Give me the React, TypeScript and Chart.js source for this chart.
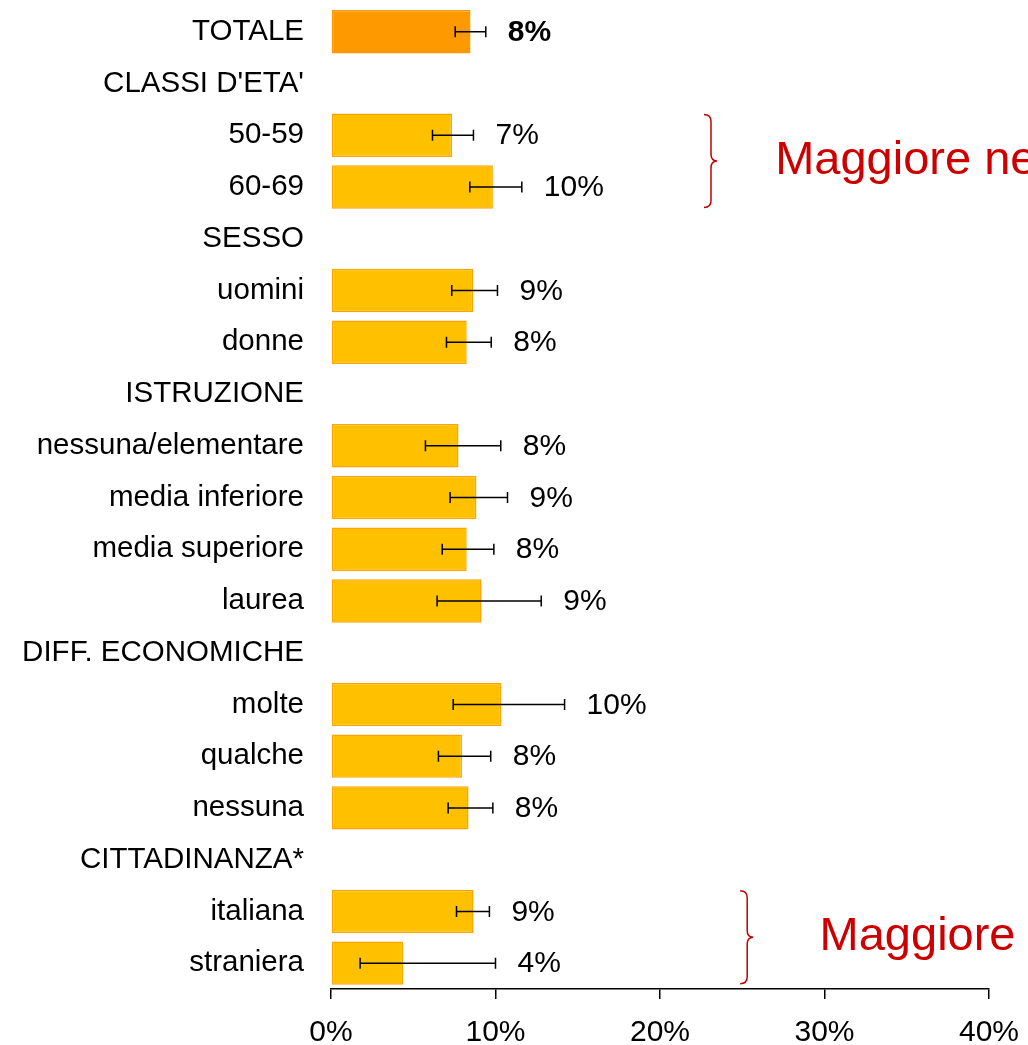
import React, { useEffect, useRef } from "react";
import { Chart, registerables } from "chart.js";

Chart.register(...registerables);

const categories = [
  "TOTALE", "CLASSI D'ETA'", "50-59", "60-69", "SESSO", "uomini", "donne",
  "ISTRUZIONE", "nessuna/elementare", "media inferiore", "media superiore", "laurea",
  "DIFF. ECONOMICHE", "molte", "qualche", "nessuna", "CITTADINANZA*", "italiana", "straniera",
];
const values = [8.48, null, 7.36, 9.84, null, 8.64, 8.25, null, 7.75, 8.84, 8.25, 9.15, null, 10.35, 7.97, 8.36, null, 8.66, 4.38];
const errLow = [7.55, null, 6.17, 8.44, null, 7.34, 7.02, null, 5.74, 7.24, 6.76, 6.45, null, 7.43, 6.53, 7.12, null, 7.63, 1.77];
const errHigh = [9.41, null, 8.66, 11.6, null, 10.12, 9.74, null, 10.32, 10.73, 9.9, 12.78, null, 14.2, 9.71, 9.84, null, 9.63, 10.0];
const valueLabels = ["8%", "", "7%", "10%", "", "9%", "8%", "", "8%", "9%", "8%", "9%", "", "10%", "8%", "8%", "", "9%", "4%"];
const xTicks = [0, 10, 20, 30, 40];
const notes = [
  { from: "50-59", to: "60-69", braceAt: 23.1, textAt: 27.0, text: "Maggiore ne" },
  { from: "italiana", to: "straniera", braceAt: 25.3, textAt: 29.7, text: "Maggiore" },
];

const FONT = "'Liberation Sans', Arial, sans-serif";

export default function App() {
  const ref = useRef<HTMLCanvasElement | null>(null);

  useEffect(() => {
    const canvas = ref.current;
    if (!canvas) return;

    const overlay = {
      id: "overlay",
      afterDatasetsDraw(chart: any) {
        const ctx = chart.ctx;
        const xs = chart.scales.x;
        const ys = chart.scales.y;
        ctx.save();
        // error bars
        ctx.strokeStyle = "#000";
        ctx.lineWidth = 1.5;
        for (let i = 0; i < categories.length; i++) {
          if (values[i] == null) continue;
          const y = ys.getPixelForValue(i);
          const x1 = xs.getPixelForValue(errLow[i] as number);
          const x2 = xs.getPixelForValue(errHigh[i] as number);
          ctx.beginPath();
          ctx.moveTo(x1, y);
          ctx.lineTo(x2, y);
          ctx.moveTo(x1, y - 5.5);
          ctx.lineTo(x1, y + 5.5);
          ctx.moveTo(x2, y - 5.5);
          ctx.lineTo(x2, y + 5.5);
          ctx.stroke();
          // value label
          ctx.fillStyle = "#000";
          ctx.font = (i === 0 ? "bold " : "") + "30px " + FONT;
          ctx.textAlign = "left";
          ctx.textBaseline = "middle";
          ctx.fillText(valueLabels[i], x2 + 22, y + 1);
        }
        // braces + notes
        const step = Math.abs(ys.getPixelForValue(1) - ys.getPixelForValue(0));
        for (const n of notes) {
          const i0 = categories.indexOf(n.from);
          const i1 = categories.indexOf(n.to);
          const top = ys.getPixelForValue(i0) - step * 0.4;
          const bot = ys.getPixelForValue(i1) + step * 0.4;
          const mid = (top + bot) / 2;
          const x = xs.getPixelForValue(n.braceAt);
          const r = 7;
          ctx.strokeStyle = "#C00000";
          ctx.lineWidth = 1.5;
          ctx.beginPath();
          ctx.moveTo(x - r, top);
          ctx.quadraticCurveTo(x, top, x, top + r);
          ctx.lineTo(x, mid - r);
          ctx.quadraticCurveTo(x, mid, x + 6, mid);
          ctx.quadraticCurveTo(x, mid, x, mid + r);
          ctx.lineTo(x, bot - r);
          ctx.quadraticCurveTo(x, bot, x - r, bot);
          ctx.stroke();
          ctx.fillStyle = "#CC0000";
          ctx.font = "47px " + FONT;
          ctx.textAlign = "left";
          ctx.textBaseline = "alphabetic";
          ctx.fillText(n.text, xs.getPixelForValue(n.textAt), mid + 13);
        }
        ctx.restore();
      },
    };

    const chart = new Chart(canvas, {
      type: "bar",
      data: {
        labels: categories,
        datasets: [
          {
            data: values as any,
            backgroundColor: values.map((_, i) => (i === 0 ? "#FF9900" : "#FFC000")),
            borderColor: values.map((_, i) => (i === 0 ? "#FF9900" : "#FFA300")),
            borderWidth: 1.5,
            borderSkipped: false,
            barPercentage: 0.84,
            categoryPercentage: 1,
          },
        ],
      },
      options: {
        indexAxis: "y",
        responsive: false,
        animation: false,
        events: [],
        layout: { padding: { top: 5.8, right: 39, left: 0, bottom: 0 } },
        plugins: { legend: { display: false }, tooltip: { enabled: false } },
        scales: {
          x: {
            type: "linear",
            min: 0,
            max: 40,
            afterBuildTicks: (s: any) => {
              s.ticks = xTicks.map((v) => ({ value: v }));
            },
            afterFit: (s: any) => {
              s.height = 81;
              s.paddingLeft = 0;
              s.paddingRight = 0;
            },
            grid: { drawOnChartArea: false, drawTicks: true, tickLength: 10, color: "#000", lineWidth: 1.5 },
            border: { display: true, color: "#000", width: 1.5 },
            ticks: {
              color: "#000",
              font: { family: FONT, size: 30 },
              padding: 16,
              maxRotation: 0,
              autoSkip: false,
              callback: (v: any) => v + "%",
            },
          },
          y: {
            type: "category",
            afterFit: (s: any) => {
              s.width = 331;
              s.paddingTop = 0;
              s.paddingBottom = 0;
            },
            grid: { display: false, drawTicks: false },
            border: { display: false },
            ticks: {
              color: "#000",
              font: { family: FONT, size: 29.5 },
              padding: 27,
              autoSkip: false,
            },
          },
        },
      },
      plugins: [overlay],
    });
    return () => chart.destroy();
  }, []);

  return (
    <div style={{ position: "fixed", left: 0, top: 0, width: 1028, height: 1045, overflow: "hidden", background: "#fff" }}>
      <canvas ref={ref} width={1028} height={1070} style={{ display: "block" }} />
    </div>
  );
}
